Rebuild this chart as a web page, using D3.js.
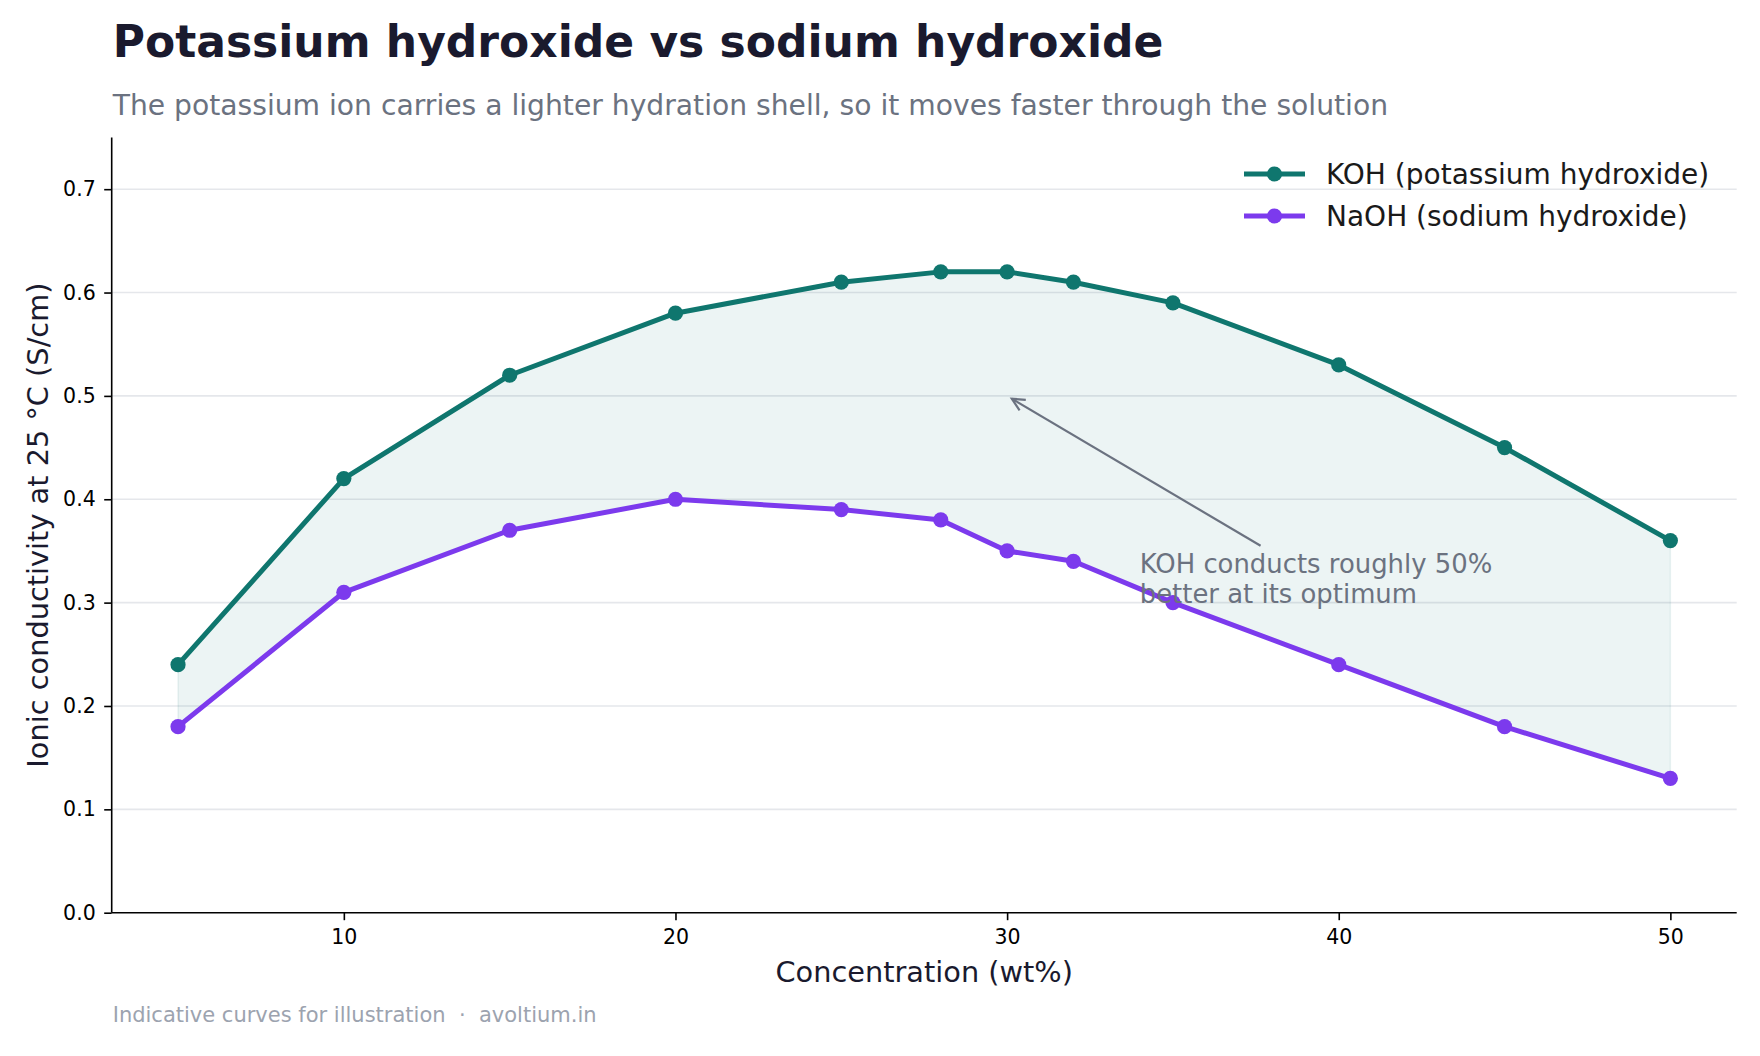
<!DOCTYPE html>
<html>
<head>
<meta charset="utf-8">
<script src="https://cdn.jsdelivr.net/npm/d3@7"></script>
<style>
  html, body { margin: 0; padding: 0; background: #ffffff; }
  svg { display: block; font-family: "DejaVu Sans", sans-serif; }
</style>
</head>
<body>
<svg id="chart" width="1760" height="1056"></svg>
<script>
// ---- data ----
const concentration = [5, 10, 15, 20, 25, 28, 30, 32, 35, 40, 45, 50];
const kohValues  = [0.24, 0.42, 0.52, 0.58, 0.61, 0.62, 0.62, 0.61, 0.59, 0.53, 0.45, 0.36];
const naohValues = [0.18, 0.31, 0.37, 0.40, 0.39, 0.38, 0.35, 0.34, 0.30, 0.24, 0.18, 0.13];
const seriesNames = ["KOH (potassium hydroxide)", "NaOH (sodium hydroxide)"];
const xTicks = [10, 20, 30, 40, 50];
const yTicks = [0.0, 0.1, 0.2, 0.3, 0.4, 0.5, 0.6, 0.7];
const annotationLines = ["KOH conducts roughly 50%", "better at its optimum"];
const annotationTarget = [30, 0.50];
const annotationTextPos = [34, 0.30];

const titleText = "Potassium hydroxide vs sodium hydroxide";
const subtitleText = "The potassium ion carries a lighter hydration shell, so it moves faster through the solution";
const xLabel = "Concentration (wt%)";
const yLabel = "Ionic conductivity at 25 °C (S/cm)";
const footerText = "Indicative curves for illustration\u00a0\u00a0·\u00a0\u00a0avoltium.in";

// ---- layout ----
const plot = { left: 111.7, right: 1736.7, top: 137.5, bottom: 912.7 };
const colors = { koh: "#0f766e", naoh: "#7c3aed", grid: "#e5e7eb", title: "#1a1a2e", sub: "#6b7280", foot: "#9ca3af" };

const svg = d3.select("#chart");

const x = d3.scaleLinear().domain([3, 52]).range([plot.left, plot.right]);
const y = d3.scaleLinear().domain([0, 0.75]).range([plot.bottom, plot.top]);

const data = concentration.map((c, i) => ({ c, koh: kohValues[i], naoh: naohValues[i] }));

// title / subtitle
svg.append("text").attr("x", plot.left + 1).attr("y", 57)
  .attr("font-size", 44).attr("font-weight", "bold").attr("fill", colors.title)
  .text(titleText);
svg.append("text").attr("x", plot.left + 1).attr("y", 115)
  .attr("font-size", 28.2).attr("fill", colors.sub)
  .text(subtitleText);

// gridlines
svg.append("g").selectAll("line").data(yTicks.filter(d => d > 0)).join("line")
  .attr("x1", plot.left).attr("x2", plot.right)
  .attr("y1", d => y(d)).attr("y2", d => y(d))
  .attr("stroke", colors.grid).attr("stroke-width", 1.6);

// fill between
const area = d3.area().x(d => x(d.c)).y0(d => y(d.naoh)).y1(d => y(d.koh));
svg.append("path").datum(data).attr("d", area)
  .attr("fill", colors.koh).attr("fill-opacity", 0.08)
  .attr("stroke", colors.koh).attr("stroke-opacity", 0.08).attr("stroke-width", 1.5);

// axes
const xAxis = svg.append("g").attr("transform", `translate(0,${plot.bottom})`)
  .call(d3.axisBottom(x).tickValues(xTicks).tickFormat(d3.format("d")).tickSizeOuter(0).tickSize(7.5).tickPadding(9));
const yAxis = svg.append("g").attr("transform", `translate(${plot.left},0)`)
  .call(d3.axisLeft(y).tickValues(yTicks).tickFormat(d3.format(".1f")).tickSizeOuter(0).tickSize(7.5).tickPadding(8.5));
[xAxis, yAxis].forEach(g => {
  g.select(".domain").attr("stroke", "#000").attr("stroke-width", 1.6);
  g.selectAll(".tick line").attr("stroke", "#000").attr("stroke-width", 1.6);
  g.selectAll(".tick text").attr("font-size", 20.5).attr("fill", "#000")
    .attr("font-family", "DejaVu Sans, sans-serif");
});
xAxis.select(".domain").attr("d", `M${plot.left},0H${plot.right}`);
yAxis.select(".domain").attr("d", `M0,${plot.top}V${plot.bottom}`);

// axis labels
svg.append("text").attr("x", (plot.left + plot.right) / 2).attr("y", 981.7)
  .attr("text-anchor", "middle").attr("font-size", 28.8).attr("fill", colors.title)
  .text(xLabel);
svg.append("text")
  .attr("transform", `translate(48,${(plot.top + plot.bottom) / 2}) rotate(-90)`)
  .attr("text-anchor", "middle").attr("font-size", 28.8).attr("fill", colors.title)
  .text(yLabel);

// lines + markers
const seriesDefs = [
  { key: "koh", color: colors.koh, name: seriesNames[0] },
  { key: "naoh", color: colors.naoh, name: seriesNames[1] }
];
seriesDefs.forEach(s => {
  const line = d3.line().x(d => x(d.c)).y(d => y(d[s.key]));
  svg.append("path").datum(data).attr("d", line)
    .attr("fill", "none").attr("stroke", s.color).attr("stroke-width", 5)
    .attr("stroke-linejoin", "round").attr("stroke-linecap", "round");
  svg.append("g").selectAll("circle").data(data).join("circle")
    .attr("cx", d => x(d.c)).attr("cy", d => y(d[s.key])).attr("r", 7.6)
    .attr("fill", s.color);
});

// annotation
const annoFont = 25.9;
const annoX = x(annotationTextPos[0]);
const lastBaseline = y(annotationTextPos[1]);
const lineGap = 30;
const annoG = svg.append("g");
const annoText = annoG.append("text").attr("font-size", annoFont).attr("fill", colors.sub);
annotationLines.forEach((t, i) => {
  annoText.append("tspan").attr("x", annoX)
    .attr("y", lastBaseline - (annotationLines.length - 1 - i) * lineGap).text(t);
});
const bb = annoText.node().getBBox();
const cx = bb.x + bb.width / 2, cy = bb.y + bb.height / 2;
const tx = x(annotationTarget[0]), ty = y(annotationTarget[1]);
let dx = tx - cx, dy = ty - cy;
const len = Math.hypot(dx, dy); const ux = dx / len, uy = dy / len;
const tEdge = Math.min(Math.abs((bb.height / 2) / uy), Math.abs((bb.width / 2) / ux));
const shrink = 5.5;
const sx = cx + ux * (tEdge + shrink), sy = cy + uy * (tEdge + shrink);
const ex = tx - ux * shrink, ey = ty - uy * shrink;
annoG.append("line").attr("x1", sx).attr("y1", sy).attr("x2", ex).attr("y2", ey)
  .attr("stroke", colors.sub).attr("stroke-width", 2.2);
const headLen = 14, ang = Math.atan2(ey - sy, ex - sx), spread = 0.45;
annoG.append("path")
  .attr("d", `M${ex - headLen * Math.cos(ang - spread)},${ey - headLen * Math.sin(ang - spread)}L${ex},${ey}L${ex - headLen * Math.cos(ang + spread)},${ey - headLen * Math.sin(ang + spread)}`)
  .attr("fill", "none").attr("stroke", colors.sub).attr("stroke-width", 2.2)
  .attr("stroke-linejoin", "miter");

// legend
const legend = svg.append("g");
const legendY = [174, 216];
seriesDefs.forEach((s, i) => {
  const gy = legendY[i];
  legend.append("line").attr("x1", 1244).attr("x2", 1305).attr("y1", gy).attr("y2", gy)
    .attr("stroke", s.color).attr("stroke-width", 5);
  legend.append("circle").attr("cx", 1274.5).attr("cy", gy).attr("r", 7.6).attr("fill", s.color);
  legend.append("text").attr("x", 1326).attr("y", gy).attr("dy", "0.36em")
    .attr("font-size", 28).attr("fill", "#1a1a1a").text(s.name);
});

// footer
svg.append("text").attr("x", plot.left + 1).attr("y", 1021.7)
  .attr("font-size", 21).attr("fill", colors.foot)
  .text(footerText);
</script>
</body>
</html>
